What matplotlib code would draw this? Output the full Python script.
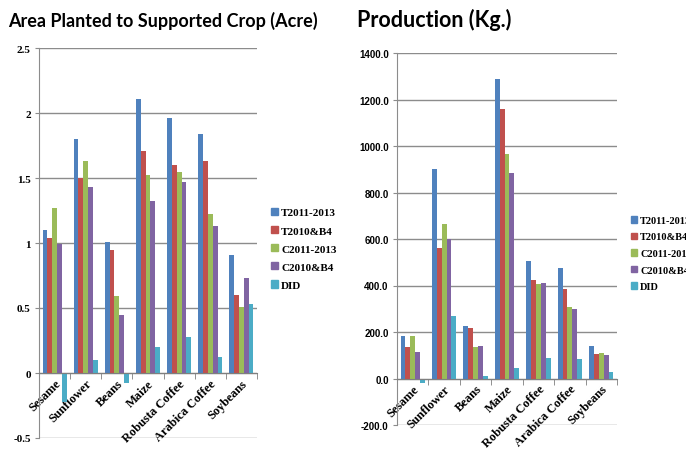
import matplotlib
matplotlib.use("Agg")
import matplotlib.pyplot as plt
from matplotlib.patches import Patch
import numpy as np

# crops and survey groups
crops = ["Sesame", "Sunflower", "Beans", "Maize", "Robusta Coffee", "Arabica Coffee", "Soybeans"]
groups = ["T2011-2013", "T2010&B4", "C2011-2013", "C2010&B4", "DID"]
colors = ["#4F81BD", "#C0504D", "#9BBB59", "#8064A2", "#4BACC6"]

# area planted (acre)
area_t2011 = [1.10, 1.80, 1.01, 2.11, 1.96, 1.84, 0.91]
area_t2010 = [1.04, 1.50, 0.95, 1.71, 1.60, 1.63, 0.60]
area_c2011 = [1.27, 1.63, 0.59, 1.52, 1.55, 1.22, 0.51]
area_c2010 = [0.99, 1.43, 0.45, 1.32, 1.47, 1.13, 0.73]
area_did = [-0.22, 0.10, -0.08, 0.20, 0.28, 0.12, 0.53]
area_ticks = [-0.5, 0, 0.5, 1, 1.5, 2, 2.5]

# production (kg)
prod_t2011 = [181, 900, 224, 1287, 506, 474, 140]
prod_t2010 = [136, 563, 218, 1157, 423, 384, 106]
prod_c2011 = [181, 663, 136, 966, 406, 306, 109]
prod_c2010 = [114, 601, 140, 882, 411, 299, 101]
prod_did = [-21, 270, 10, 46, 87, 84, 29]
prod_ticks = [-200, 0, 200, 400, 600, 800, 1000, 1200, 1400]

area = [area_t2011, area_t2010, area_c2011, area_c2010, area_did]
prod = [prod_t2011, prod_t2010, prod_c2011, prod_c2010, prod_did]

serif_bold = dict(family="Liberation Serif", weight="bold")
sans_bold = dict(family="Liberation Sans", weight="bold")
grid_col = "#8c8c8c"


def draw_bars(ax, series, ticks, tick_labels, tick_font):
    x = np.arange(len(crops))
    w = 0.155
    for i, vals in enumerate(series):
        ax.bar(x + (i - 2) * w, vals, w, color=colors[i], zorder=3)
    ax.set_xlim(-0.5, len(crops) - 0.5)
    ax.set_ylim(ticks[0], ticks[-1])
    ax.set_yticks(ticks, tick_labels, **tick_font)
    ax.grid(axis="y", color=grid_col, linewidth=1, zorder=0)
    for s in ["top", "right"]:
        ax.spines[s].set_visible(False)
    ax.spines["left"].set_color(grid_col)
    ax.spines["bottom"].set_position(("data", 0))
    ax.spines["bottom"].set_color("#7f7f7f")
    ax.spines["bottom"].set_zorder(4)
    ax.tick_params(axis="y", length=3, color=grid_col, pad=3)
    ax.set_xticks(x)
    ax.set_xticks(np.arange(-0.5, len(crops)), minor=True)
    ax.tick_params(axis="x", which="major", length=0, pad=3)
    ax.tick_params(axis="x", which="minor", length=4, color="#7f7f7f")
    ax.set_xticklabels(crops, rotation=45, ha="right", va="top",
                       rotation_mode="anchor", fontsize=9, **serif_bold)


fig = plt.figure(figsize=(6.86, 4.52), dpi=100)

ax1 = fig.add_axes([39 / 686, 1 - 439 / 452, 218 / 686, 390 / 452])
draw_bars(ax1, area, area_ticks, [f"{v:g}" for v in area_ticks],
          dict(fontsize=8, **serif_bold))

ax2 = fig.add_axes([397 / 686, 1 - 426 / 452, 220 / 686, 372 / 452])
draw_bars(ax2, prod, prod_ticks, [f"{v:.1f}" for v in prod_ticks],
          dict(fontsize=7, **sans_bold))

handles = [Patch(color=c) for c in colors]
fig.legend(handles, groups, loc="upper left", bbox_to_anchor=(271 / 686, 1 - 209 / 452),
           frameon=False, prop=dict(size=8, **serif_bold), handlelength=0.6, handleheight=0.6,
           handletextpad=0.3, labelspacing=0.78, borderpad=0, borderaxespad=0)
fig.legend(handles, groups, loc="upper left", bbox_to_anchor=(631 / 686, 1 - 217 / 452),
           frameon=False, prop=dict(size=7.5, **serif_bold), handlelength=0.6, handleheight=0.6,
           handletextpad=0.3, labelspacing=0.72, borderpad=0, borderaxespad=0)

fig.text(8 / 686, 1 - 27 / 452, "Area Planted to Supported Crop (Acre)",
         family="Lato", weight="bold", fontsize=13, va="baseline")
fig.text(357 / 686, 1 - 27 / 452, "Production (Kg.)",
         family="Lato", weight="bold", fontsize=15.5, va="baseline")

fig.savefig("out.png", dpi=100)
